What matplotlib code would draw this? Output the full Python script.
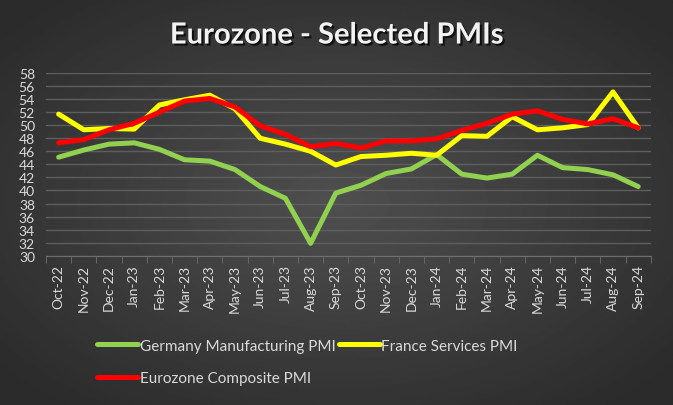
import numpy as np
import matplotlib
matplotlib.use("Agg")
import matplotlib.pyplot as plt
import matplotlib.patheffects as pe

# Data
months = ["Oct-22", "Nov-22", "Dec-22", "Jan-23", "Feb-23", "Mar-23", "Apr-23", "May-23",
          "Jun-23", "Jul-23", "Aug-23", "Sep-23", "Oct-23", "Nov-23", "Dec-23", "Jan-24",
          "Feb-24", "Mar-24", "Apr-24", "May-24", "Jun-24", "Jul-24", "Aug-24", "Sep-24"]
germany_mfg = [45.1, 46.2, 47.1, 47.3, 46.3, 44.7, 44.5, 43.2, 40.6, 38.8, 31.9, 39.6,
               40.8, 42.6, 43.3, 45.5, 42.5, 41.9, 42.5, 45.4, 43.5, 43.2, 42.4, 40.6]
france_services = [51.7, 49.3, 49.5, 49.4, 53.1, 53.9, 54.6, 52.5, 48.0, 47.1, 46.0, 43.9,
                   45.2, 45.4, 45.7, 45.4, 48.4, 48.3, 51.3, 49.3, 49.6, 50.1, 55.1, 49.6]
ez_composite = [47.3, 47.8, 49.3, 50.3, 52.0, 53.7, 54.1, 52.8, 49.9, 48.6, 46.7, 47.2,
                46.5, 47.6, 47.6, 47.9, 49.2, 50.3, 51.7, 52.2, 50.9, 50.2, 51.0, 49.6]

plt.rcParams['font.family'] = ['Lato', 'DejaVu Sans']
txt = '#d9d9d9'

fig = plt.figure(figsize=(6.73, 4.06), dpi=100)

# radial gradient background
bg = fig.add_axes([0, 0, 1, 1], zorder=-10)
yy, xx = np.mgrid[-1:1:300j, -1:1:500j]
r = np.sqrt(xx ** 2 + yy ** 2)
bg.imshow(0.31 - 0.14 * np.clip(r / 1.3, 0, 1), cmap='gray', vmin=0, vmax=1,
          aspect='auto', extent=[0, 1, 0, 1])
bg.axis('off')

ax = fig.add_axes([0.0684, 0.3677, 0.8986, 0.45])
ax.patch.set_alpha(0)
x = np.arange(len(months))
l1, = ax.plot(x, germany_mfg, color='#92D050', lw=3.6, solid_capstyle='round',
              label='Germany Manufacturing PMI')
l2, = ax.plot(x, france_services, color='#FFFF00', lw=3.6, solid_capstyle='round',
              label='France Services PMI')
l3, = ax.plot(x, ez_composite, color='#FF0000', lw=3.6, solid_capstyle='round',
              label='Eurozone Composite PMI')

ax.set_xlim(-0.5, len(months) - 0.5)
ax.set_ylim(30, 58)
ax.set_yticks(np.arange(30, 59, 2))
ax.grid(axis='y', color='#5e5e5e', lw=1)
ax.set_axisbelow(True)
for s in ['top', 'right', 'left']:
    ax.spines[s].set_visible(False)
ax.spines['bottom'].set_color('#6e6e6e')
ax.set_xticks(x)
ax.set_xticklabels(months, rotation=90)
ax.set_xticks(np.arange(-0.5, len(months), 1), minor=True)
ax.tick_params(axis='x', which='major', length=0, pad=6, labelsize=10, colors=txt)
ax.tick_params(axis='x', which='minor', length=5, color='#6e6e6e')
ax.tick_params(axis='y', length=0, pad=8, labelsize=10, colors=txt)

fig.text(0.5, 0.91, 'Eurozone - Selected PMIs', ha='center', va='center',
         fontsize=21, fontweight='bold', color='#f2f2f2',
         path_effects=[pe.withSimplePatchShadow(offset=(1.5, -1.5), shadow_rgbFace='black', alpha=0.7)])

# legend filled column-wise: Germany, Eurozone | France
handles = [l1, l3, l2]
leg = fig.legend(handles, [h.get_label() for h in handles], loc='upper left',
                 bbox_to_anchor=(0.135, 0.178), ncol=2, frameon=False,
                 fontsize=11, handlelength=2.7, handletextpad=0.1, columnspacing=0.2,
                 labelspacing=1.2, borderaxespad=0)
for t in leg.get_texts():
    t.set_color(txt)

fig.savefig('out.png', dpi=100)
